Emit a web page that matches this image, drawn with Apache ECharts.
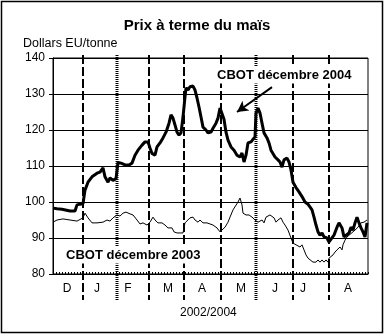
<!DOCTYPE html>
<html><head><meta charset="utf-8">
<script src="https://cdn.jsdelivr.net/npm/echarts@6/dist/echarts.min.js"></script>
<style>html,body{margin:0;padding:0;background:#fff}#c{width:385px;height:335px}</style>
</head><body><div id="c"></div>
<script>
// x = position along the season (0 = start of axis, 315 = end)
const monthStarts = [30, 64, 96, 131, 168, 203, 240, 276];
const monthLineDense = [false, true, false, false, false, true, false, false];
const monthLabelPos = [14, 44, 75, 115, 149, 188, 222, 250, 295];
const monthLabels = ['D', 'J', 'F', 'M', 'A', 'M', 'J', 'J', 'A'];
const yTicks = [80, 90, 100, 110, 120, 130, 140];

const dec2004X = [0,4,9,11,17,22,24,27,30,31,32,35,39,44,47,50,52,55,57,60,63,65,68,72,76,79,82,85,89,92,95,97,99,102,104,107,110,113,116,118,120,122,124,126,128,130,132,133,135,137,140,142,144,146,148,150,153,155,158,160,163,165,167,169,171,173,175,178,181,184,187,189,191,193,195,198,200,202,203,205,207,209,211,214,216,218,220,222,225,227,229,231,234,236,238,240,243,246,249,252,255,257,259,261,263,265,267,269,271,274,276,278,281,284,286,289,291,293,296,298,300,302,304,306,308,310,312,314];
const dec2004Y = [98.3,98.1,98.0,97.5,97.5,97.5,99.2,99.4,99.5,100,103.3,105.5,107,108,108.3,109.5,107,105.5,106.7,106,106.5,111,110.8,110.3,110.3,110.8,113,114.4,115.8,116.7,116.7,115,113.5,113,115.3,116.4,117.8,119.4,121.9,124.2,123.3,121.4,119.4,118.6,119.2,123.6,129.2,131.7,131.1,132,132.2,131.1,128.9,126.4,123.6,120.8,120,119.2,119.4,120.5,121.9,123.3,126.1,125.6,123,119.4,117.2,115.3,114.4,113,112.5,113.6,111.1,113,116.4,116.7,117.2,118.1,124.7,126.1,124.7,121.9,119.2,117.8,116.4,114.4,113.9,112.5,111.7,111.1,109.7,111.7,112.2,111.1,108.9,105.5,104,102.8,101.5,100,99.4,99,97.8,95.8,93.6,91.7,90.8,91.4,90.3,90,88.9,89.4,90.8,93,94.2,92.8,90.3,90,91.4,93,92.2,94.2,95.8,94.2,92.8,91.7,90.3,94.2];

const dec2003X = [0,4,10,17,24,30,32,35,39,44,50,54,57,60,64,67,70,73,77,80,84,87,90,94,97,100,102,105,109,112,115,119,121,124,130,132,134,137,140,142,145,147,150,154,157,160,164,167,169,172,175,177,180,182,185,187,189,190,193,196,199,202,205,207,209,211,213,215,217,219,221,223,225,228,230,232,235,238,240,243,245,247,249,251,253,255,257,260,263,265,267,269,271,273,275,276,278,280,282,284,287,289,290,292,294,297,302,305,308,311,314];
const dec2003Y = [94.4,95,95.3,95,94.7,95.6,96.9,95.6,94.2,94.2,94.4,95,94.7,95.6,96.4,96.1,96.9,97.2,96.7,96.4,95,93.9,94.2,93.6,94.4,95.8,95,94.2,94.2,93.6,92.8,92.8,91.7,91.4,91.4,94.2,94.4,95.6,95.8,95,94.4,95,94.2,94.2,93.9,93.6,92.8,91.7,92.2,93,94.4,95.8,97.8,98.3,100,101.1,99.2,96.9,96.4,96.4,95.8,95,94.4,94.2,95,94.2,95.8,95.6,96.4,96.9,95.6,94.4,95,95.6,94.4,93.6,92.2,90,88.6,88.1,88.6,87.5,88.1,86.7,85.3,84.4,83.9,83.3,83.3,83.9,83.3,83.9,83.3,83.9,83.3,84.4,83.9,85.3,86.1,86.7,87.5,86.7,88.1,89.4,90.3,91,92.2,93,94.2,94.4,95];

const arrowFrom = [219, 131.9];
const arrowTo = [184, 125.0];

const FONT = '"Liberation Sans", Arial, sans-serif';
const chart = echarts.init(document.getElementById('c'), null, {renderer: 'canvas'});

chart.setOption({
  animation: false,
  backgroundColor: '#fff',
  grid: {left: 53, top: 58, width: 315, height: 216, show: true, borderColor: '#000', borderWidth: 1, backgroundColor: 'transparent'},
  xAxis: {
    type: 'value', min: 0, max: 315, interval: 3,
    axisLine: {show: true, lineStyle: {color: '#000', width: 1}},
    axisTick: {show: true, inside: true, length: 2, lineStyle: {color: '#000', width: 1}},
    splitLine: {show: false},
    axisLabel: {
      customValues: monthLabelPos,
      formatter: v => monthLabels[monthLabelPos.indexOf(v)] || '',
      color: '#000', fontFamily: FONT, fontSize: 12, margin: 9
    }
  },
  yAxis: {
    type: 'value', min: yTicks[0], max: yTicks[yTicks.length - 1], interval: 10,
    axisLine: {show: true, lineStyle: {color: '#000'}},
    axisTick: {show: true, inside: false, length: 4, lineStyle: {color: '#000'}},
    splitLine: {show: true, lineStyle: {color: '#000', width: 1}},
    axisLabel: {color: '#000', fontFamily: FONT, fontSize: 12, margin: 8}
  },
  series: [
    {
      type: 'custom',
      data: monthStarts.map(v => [v]),
      encode: {x: 0},
      clip: false,
      silent: true,
      z: 3,
      renderItem: function (params, api) {
        const v = api.value(0);
        const top = api.coord([v, 140]);
        const bot = api.coord([v, 80]);
        const dense = monthLineDense[params.dataIndex];
        return {
          type: 'line',
          shape: {x1: top[0], y1: top[1] - 3, x2: bot[0], y2: bot[1] + 26},
          style: {stroke: '#000', lineWidth: dense ? 3 : 2, lineDash: dense ? [1, 1] : [9, 3]}
        };
      }
    },
    {
      type: 'line',
      data: dec2003X.map((x, i) => [x, dec2003Y[i]]),
      showSymbol: false, smooth: false,
      lineStyle: {color: '#000', width: 1},
      z: 4
    },
    {
      type: 'line',
      data: dec2004X.map((x, i) => [x, dec2004Y[i]]),
      showSymbol: false, smooth: false,
      lineStyle: {color: '#000', width: 3},
      z: 5,
      markLine: {
        silent: true,
        symbol: ['none', 'arrow'],
        symbolSize: [9, 11],
        label: {show: false},
        lineStyle: {color: '#000', width: 2, type: 'solid'},
        data: [[{coord: arrowFrom}, {coord: arrowTo}]]
      }
    }
  ],
  graphic: [
    {type: 'rect', shape: {x: 1.5, y: 1.5, width: 381, height: 331}, style: {fill: 'none', stroke: '#000', lineWidth: 1.5}, silent: true},
    {type: 'text', x: 197, y: 26, style: {text: 'Prix à terme du maïs', font: 'bold 15px ' + FONT, fill: '#000', textAlign: 'center', textVerticalAlign: 'middle'}},
    {type: 'text', x: 23, y: 44, style: {text: 'Dollars EU/tonne', font: '12.5px ' + FONT, fill: '#000', textAlign: 'left', textVerticalAlign: 'middle'}},
    {type: 'text', x: 216, y: 75, z: 10, style: {text: 'CBOT décembre 2004', font: 'bold 13px ' + FONT, fill: '#000', textAlign: 'left', textVerticalAlign: 'middle', backgroundColor: '#fff', padding: [2, 1]}},
    {type: 'text', x: 65, y: 255, z: 10, style: {text: 'CBOT décembre 2003', font: 'bold 13px ' + FONT, fill: '#000', textAlign: 'left', textVerticalAlign: 'middle', backgroundColor: '#fff', padding: [2, 1]}},
    {type: 'text', x: 180, y: 313, style: {text: '2002/2004', font: '12px ' + FONT, fill: '#000', textAlign: 'left', textVerticalAlign: 'middle'}}
  ]
});
</script>
</body></html>
